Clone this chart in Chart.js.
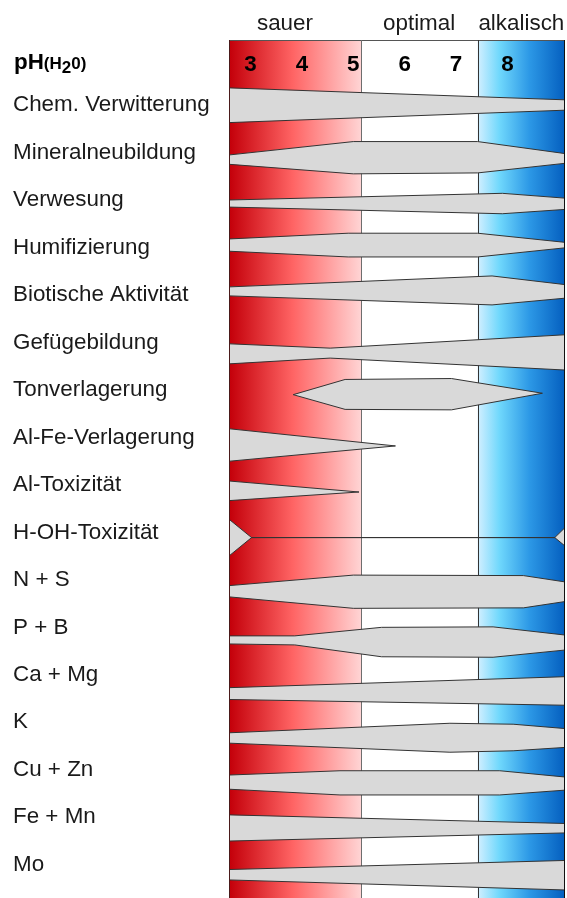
<!DOCTYPE html>
<html lang="de">
<head>
<meta charset="utf-8">
<title>Bodenprozesse und pH</title>
<script src="https://cdn.jsdelivr.net/npm/chart.js@4.4.1/dist/chart.umd.min.js"></script>
<style>
  html, body { margin: 0; padding: 0; background: #fff; }
  #wrap { width: 567px; height: 898px; }
</style>
</head>
<body>
<div id="wrap"><canvas id="phChart" width="567" height="898"></canvas></div>
<script>
// rows (y axis)
const processes = [
    'Chem. Verwitterung', 'Mineralneubildung', 'Verwesung', 'Humifizierung',
    'Biotische Aktivität', 'Gefügebildung', 'Tonverlagerung', 'Al-Fe-Verlagerung',
    'Al-Toxizität', 'H-OH-Toxizität', 'N + S', 'P + B', 'Ca + Mg', 'K',
    'Cu + Zn', 'Fe + Mn', 'Mo'
];

// pH axis
const phMin = 2.6;
const phMax = 9.1;
const phTicks = [3, 4, 5, 6, 7, 8];
const zoneNames = ['sauer', 'optimal', 'alkalisch'];
const zoneLabelPH = [3.67, 6.28, 8.27];
const zoneEdges = [2.6, 5.15, 7.42, 9.1];

// band outlines: pH stops, upper edge, lower edge (row units, relative to the row)
const chemPH = [2.6, 9.1];                 const chemTop = [-0.36, -0.11];             const chemBot = [0.37, 0.11];
const mineralPH = [2.6, 5.0, 7.42, 9.1];   const mineralTop = [0.05, -0.23, -0.23, 0.02]; const mineralBot = [0.25, 0.45, 0.43, 0.23];
const verwesPH = [2.6, 7.9, 9.1];          const verwesTop = [0.0, -0.14, -0.04];      const verwesBot = [0.15, 0.29, 0.20];
const humusPH = [2.6, 4.9, 7.42, 9.1];     const humusTop = [-0.18, -0.30, -0.30, -0.11]; const humusBot = [0.08, 0.20, 0.20, 0.01];
const biotPH = [2.6, 7.7, 9.1];            const biotTop = [-0.17, -0.40, -0.22];      const biotBot = [0.02, 0.21, 0.07];
const gefuegePH = [2.6, 4.55, 9.1];        const gefuegeTop = [0.03, 0.12, -0.16];     const gefuegeBot = [0.45, 0.33, 0.58];
const tonPH = [3.83, 4.84, 6.91, 8.68];    const tonTop = [0.10, -0.22, -0.24, 0.07];  const tonBot = [0.10, 0.41, 0.42, 0.07];
const alfePH = [2.6, 5.82];                const alfeTop = [-0.18, 0.18];              const alfeBot = [0.50, 0.18];
const altoxPH = [2.6, 5.11];               const altoxTop = [-0.08, 0.15];             const altoxBot = [0.33, 0.15];
const hohPH = [2.6, 3.02, 8.92, 9.1];      const hohTop = [-0.26, 0.11, 0.11, -0.08];  const hohBot = [0.48, 0.11, 0.11, 0.27];
const nsPH = [2.6, 5.0, 8.31, 9.1];        const nsTop = [0.12, -0.10, -0.09, 0.04];   const nsBot = [0.36, 0.60, 0.59, 0.46];
const pbPH = [2.6, 3.86, 5.55, 7.72, 9.1]; const pbTop = [0.18, 0.18, 0.0, -0.01, 0.16]; const pbBot = [0.35, 0.37, 0.62, 0.63, 0.48];
const camgPH = [2.6, 9.1];                 const camgTop = [0.27, 0.04];               const camgBot = [0.52, 0.64];
const kPH = [2.6, 6.88, 8.11, 9.1];        const kTop = [0.22, 0.02, 0.04, 0.13];      const kBot = [0.44, 0.63, 0.60, 0.53];
const cuznPH = [2.6, 4.74, 7.85, 9.1];     const cuznTop = [0.11, 0.02, 0.02, 0.15];   const cuznBot = [0.41, 0.53, 0.53, 0.43];
const femnPH = [2.6, 9.1];                 const femnTop = [-0.05, 0.13];              const femnBot = [0.50, 0.33];
const moPH = [2.6, 9.1];                   const moTop = [0.10, -0.09];                const moBot = [0.32, 0.53];

const bands = [
    [chemPH, chemTop, chemBot], [mineralPH, mineralTop, mineralBot], [verwesPH, verwesTop, verwesBot],
    [humusPH, humusTop, humusBot], [biotPH, biotTop, biotBot], [gefuegePH, gefuegeTop, gefuegeBot],
    [tonPH, tonTop, tonBot], [alfePH, alfeTop, alfeBot], [altoxPH, altoxTop, altoxBot],
    [hohPH, hohTop, hohBot], [nsPH, nsTop, nsBot], [pbPH, pbTop, pbBot], [camgPH, camgTop, camgBot],
    [kPH, kTop, kBot], [cuznPH, cuznTop, cuznBot], [femnPH, femnTop, femnBot], [moPH, moTop, moBot]
];

const FONT = "'Liberation Sans', Arial, sans-serif";

// one upper + one lower line per row, lower one filled up to the upper one
const datasets = [];
bands.forEach(([ph, top, bot], i) => {
    const row = i + 1;
    const common = {
        borderColor: '#333',
        borderWidth: 1,
        backgroundColor: '#d9d9d9',
        pointRadius: 0,
        tension: 0
    };
    datasets.push({ ...common, label: processes[i], data: ph.map((p, k) => ({ x: p, y: row + top[k] })), fill: false });
    datasets.push({ ...common, label: processes[i] + ' ', data: ph.map((p, k) => ({ x: p, y: row + bot[k] })), fill: '-1' });
});

// coloured pH zones behind the bands
const zonesPlugin = {
    id: 'zones',
    beforeDatasetsDraw(chart) {
        const { ctx, chartArea: a, scales: { x } } = chart;
        const xs = zoneEdges.map(v => x.getPixelForValue(v));
        ctx.save();
        const red = ctx.createLinearGradient(xs[0], 0, xs[1], 0);
        red.addColorStop(0, '#c4000a');
        red.addColorStop(0.48, '#ff6464');
        red.addColorStop(1, '#ffd4d4');
        ctx.fillStyle = red;
        ctx.fillRect(xs[0], a.top, xs[1] - xs[0], a.bottom - a.top);
        ctx.fillStyle = '#ffffff';
        ctx.fillRect(xs[1], a.top, xs[2] - xs[1], a.bottom - a.top);
        const blue = ctx.createLinearGradient(xs[2], 0, xs[3], 0);
        blue.addColorStop(0, '#d2efff');
        blue.addColorStop(0.25, '#70d8fc');
        blue.addColorStop(0.6, '#2c98e6');
        blue.addColorStop(1, '#0560c0');
        ctx.fillStyle = blue;
        ctx.fillRect(xs[2], a.top, xs[3] - xs[2], a.bottom - a.top);

        ctx.lineWidth = 1;
        ctx.strokeStyle = '#555';
        ctx.beginPath();
        ctx.moveTo(xs[0], a.top + 0.5); ctx.lineTo(xs[3], a.top + 0.5);
        ctx.stroke();
        ctx.strokeStyle = '#6e6e6e';
        ctx.beginPath();
        ctx.moveTo(Math.round(xs[1]) + 0.5, a.top); ctx.lineTo(Math.round(xs[1]) + 0.5, a.bottom);
        ctx.stroke();
        ctx.strokeStyle = '#333';
        ctx.beginPath();
        ctx.moveTo(Math.round(xs[2]) + 0.5, a.top); ctx.lineTo(Math.round(xs[2]) + 0.5, a.bottom);
        ctx.stroke();
        ctx.restore();
    },
    afterDatasetsDraw(chart) {
        const { ctx, chartArea: a } = chart;
        ctx.save();
        ctx.lineWidth = 1;
        ctx.strokeStyle = '#4a1a1a';
        ctx.beginPath();
        ctx.moveTo(Math.round(a.left) - 0.5, a.top); ctx.lineTo(Math.round(a.left) - 0.5, a.bottom);
        ctx.stroke();
        ctx.strokeStyle = '#111';
        ctx.beginPath();
        ctx.moveTo(Math.round(a.right) + 0.5, a.top); ctx.lineTo(Math.round(a.right) + 0.5, a.bottom);
        ctx.stroke();
        ctx.restore();
    },
    afterDraw(chart) {
        const { ctx, chartArea: a, scales: { x } } = chart;
        ctx.save();
        ctx.fillStyle = '#1a1a1a';
        ctx.textAlign = 'center';
        ctx.textBaseline = 'alphabetic';
        ctx.font = '22.4px ' + FONT;
        zoneNames.forEach((n, i) => ctx.fillText(n, x.getPixelForValue(zoneLabelPH[i]), a.top - 10));

        ctx.fillStyle = '#000';
        ctx.font = 'bold 22.4px ' + FONT;
        phTicks.forEach(v => ctx.fillText(String(v), x.getPixelForValue(v), a.top + 31));

        // pH(H2O) header
        ctx.textAlign = 'left';
        let px = 14;
        const base = a.top + 29;
        ctx.fillText('pH', px, base);
        px += ctx.measureText('pH').width;
        ctx.font = 'bold 17px ' + FONT;
        ctx.fillText('(H', px, base);
        px += ctx.measureText('(H').width;
        ctx.fillText('2', px, base + 4);
        px += ctx.measureText('2').width;
        ctx.fillText('0)', px, base);
        ctx.restore();
    }
};

new Chart(document.getElementById('phChart'), {
    type: 'line',
    data: { datasets },
    options: {
        responsive: false,
        animation: false,
        layout: { padding: { left: 13, top: 40, right: 3, bottom: 0 } },
        plugins: {
            legend: { display: false },
            tooltip: { enabled: false },
            filler: { propagate: false }
        },
        scales: {
            x: {
                type: 'linear',
                min: phMin,
                max: phMax,
                display: false
            },
            y: {
                type: 'linear',
                reverse: true,
                min: -0.369,
                max: 17.70,
                grid: { display: false },
                border: { display: false },
                afterBuildTicks: (scale) => {
                    scale.ticks = processes.map((_, i) => ({ value: i + 1 }));
                },
                afterFit: (scale) => {
                    scale.width = 217;
                    scale.paddingTop = 0;
                    scale.paddingBottom = 0;
                },
                ticks: {
                    autoSkip: false,
                    crossAlign: 'far',
                    color: '#1a1a1a',
                    font: { family: FONT, size: 22.4 },
                    callback: (v) => processes[v - 1] || ''
                }
            }
        }
    },
    plugins: [zonesPlugin]
});
</script>
</body>
</html>
